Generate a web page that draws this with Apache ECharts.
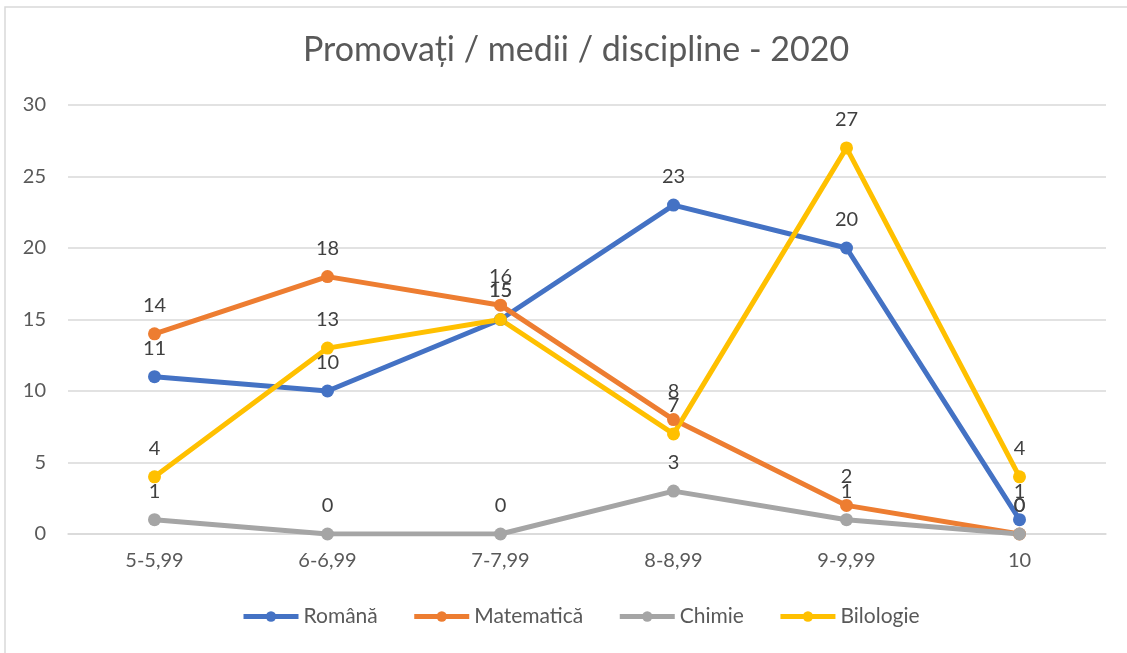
<!DOCTYPE html>
<html>
<head>
<meta charset="utf-8">
<script src="https://cdn.jsdelivr.net/npm/echarts@6/dist/echarts.min.js"></script>
<style>
  html, body { margin: 0; padding: 0; background: #fff; }
  #main { width: 1127px; height: 653px; }
</style>
</head>
<body>
<div id="main"></div>
<script>
var categories = ['5-5,99', '6-6,99', '7-7,99', '8-8,99', '9-9,99', '10'];
var romana = [11, 10, 15, 23, 20, 1];
var matematica = [14, 18, 16, 8, 2, 0];
var chimie = [1, 0, 0, 3, 1, 0];
var biologie = [4, 13, 15, 7, 27, 4];
var yTicks = [0, 5, 10, 15, 20, 25, 30];

var fontName = 'Lato';
var textColor = '#595959';

var makeSeries = function (name, data, color) {
    return {
        name: name,
        type: 'line',
        data: data,
        symbol: 'circle',
        symbolSize: 13,
        lineStyle: { color: color, width: 5 },
        itemStyle: { color: color },
        label: {
            show: true,
            position: 'top',
            distance: 12,
            color: '#404040',
            fontSize: 20,
            fontFamily: fontName
        },
        labelLayout: { hideOverlap: false }
    };
};

var myChart = echarts.init(document.getElementById('main'));
var option = {
    backgroundColor: '#fff',
    animation: false,
    graphic: [{
        type: 'rect',
        shape: { x: 5, y: 7, width: 1130, height: 660 },
        style: { fill: 'none', stroke: '#d9d9d9', lineWidth: 1.5 },
        silent: true
    }],
    title: {
        text: 'Promovați / medii / discipline - 2020',
        left: 298,
        top: 28,
        textStyle: { color: textColor, fontSize: 34, fontWeight: 'normal', fontFamily: fontName }
    },
    legend: {
        bottom: 21,
        left: 236,
        itemWidth: 55,
        itemHeight: 13,
        itemGap: 34,
        lineStyle: { width: 5 },
        textStyle: { color: textColor, fontSize: 21, fontFamily: fontName },
        data: ['Română', 'Matematică', 'Chimie', 'Bilologie']
    },
    grid: { left: 68, right: 21, top: 105, bottom: 119, containLabel: false },
    xAxis: {
        type: 'category',
        data: categories,
        boundaryGap: true,
        axisLine: { show: true, lineStyle: { color: '#d9d9d9', width: 1.5 } },
        axisTick: { show: false },
        axisLabel: { color: textColor, fontSize: 20, fontFamily: fontName, margin: 17 }
    },
    yAxis: {
        type: 'value',
        min: yTicks[0],
        max: yTicks[yTicks.length - 1],
        interval: 5,
        axisLine: { show: false },
        axisTick: { show: false },
        splitLine: { lineStyle: { color: '#d9d9d9', width: 1.5 } },
        axisLabel: { color: textColor, fontSize: 20, fontFamily: fontName, margin: 22 }
    },
    series: [
        makeSeries('Română', romana, '#4472C4'),
        makeSeries('Matematică', matematica, '#ED7D31'),
        makeSeries('Chimie', chimie, '#A5A5A5'),
        makeSeries('Bilologie', biologie, '#FFC000')
    ]
};
myChart.setOption(option);
</script>
</body>
</html>
